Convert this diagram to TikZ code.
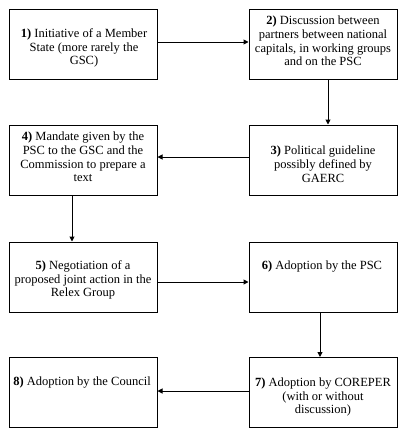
\documentclass[tikz,border=0pt]{standalone}
\usepackage{fontspec}
\setmainfont{Liberation Serif}
\usetikzlibrary{arrows.meta}
\tikzset{
  box/.style={draw, line width=1pt, minimum width=148pt, minimum height=70pt, inner sep=0pt},
  txt/.style={align=center, inner sep=0pt, font=\fontsize{12.5pt}{13.8pt}\selectfont},
  arr/.style={line width=1pt, -{Triangle[length=5pt,width=5pt]}}
}
\begin{document}
\begin{tikzpicture}[x=1pt,y=-1pt]
\useasboundingbox (0,0) rectangle (405,440);
\node[box] (b1) at (83,44) {};
\node[box] (b2) at (323,44) {};
\node[box] (b3) at (323,160) {};
\node[box] (b4) at (83,160) {};
\node[box] (b5) at (83,277) {};
\node[box] (b6) at (323,277) {};
\node[box] (b7) at (323,392.5) {};
\node[box] (b8) at (83,392.5) {};
\node[txt] (t1) at (84,48) {\textbf{1)} Initiative of a Member\\State (more rarely the\\GSC)};
\node[txt] (t2) at (323,41) {\textbf{2)} Discussion between\\partners between national\\capitals, in working groups\\and on the PSC};
\node[txt] (t3) at (323,164) {\textbf{3)} Political guideline\\possibly defined by\\GAERC};
\node[txt] (t4) at (83,157) {\textbf{4)} Mandate given by the\\PSC to the GSC and the\\Commission to prepare a\\text};
\node[txt] (t5) at (83,280) {\textbf{5)} Negotiation of a\\proposed joint action in the\\Relex Group};
\node[txt] (t6) at (322,267) {\textbf{6)} Adoption by the PSC};
\node[txt] (t7) at (323,397) {\textbf{7)} Adoption by COREPER\\(with or without\\discussion)};
\node[txt] (t8) at (82,383) {\textbf{8)} Adoption by the Council};
\draw[arr] ([yshift=2pt]b1.east) -- ([yshift=2pt]b2.west);
\draw[arr] ([xshift=5pt]b2.south) -- ([xshift=5pt]b3.north);
\draw[arr] ([yshift=3pt]b3.west) -- ([yshift=3pt]b4.east);
\draw[arr] ([xshift=-11pt]b4.south) -- ([xshift=-11pt]b5.north);
\draw[arr] ([yshift=-5pt]b5.east) -- ([yshift=-5pt]b6.west);
\draw[arr] ([xshift=-3pt]b6.south) -- ([xshift=-3pt]b7.north);
\draw[arr] ([yshift=1.5pt]b7.west) -- ([yshift=1.5pt]b8.east);
\end{tikzpicture}
\end{document}
